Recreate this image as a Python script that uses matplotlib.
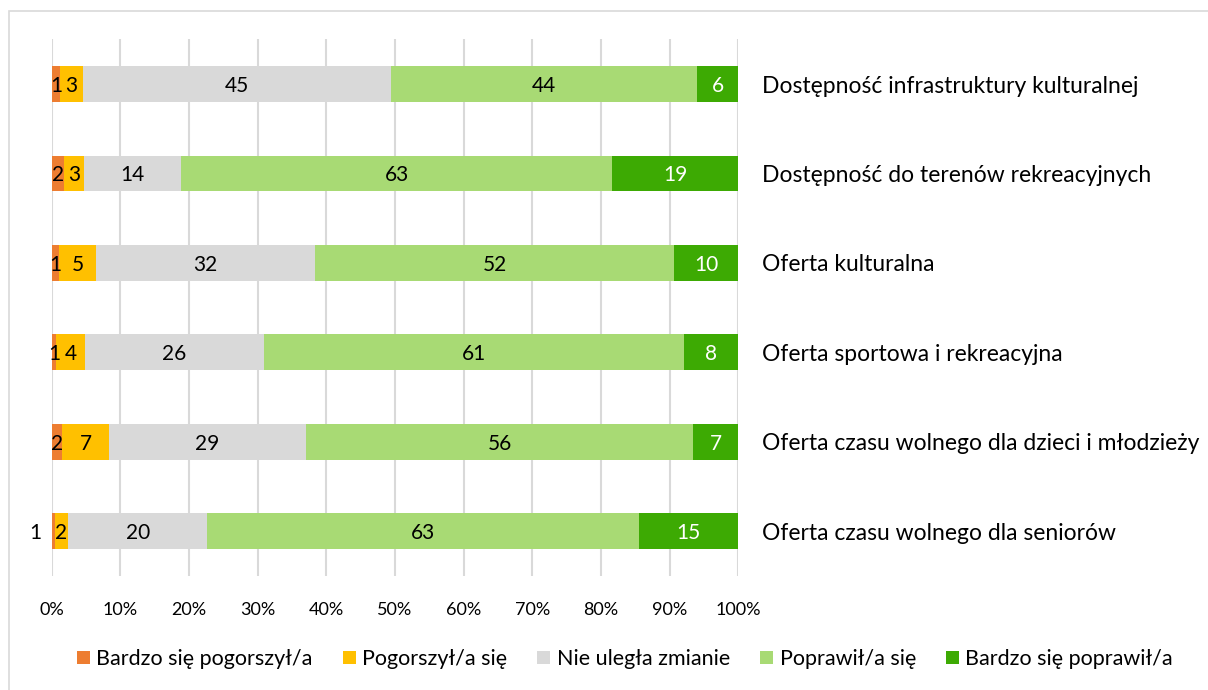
import matplotlib.pyplot as plt
from matplotlib.patches import Rectangle

plt.rcParams['font.family'] = ['Lato', 'DejaVu Sans']

categories = ["Dostępność infrastruktury kulturalnej",
              "Dostępność do terenów rekreacyjnych",
              "Oferta kulturalna",
              "Oferta sportowa i rekreacyjna",
              "Oferta czasu wolnego dla dzieci i młodzieży",
              "Oferta czasu wolnego dla seniorów"]
series_names = ["Bardzo się pogorszył/a", "Pogorszył/a się", "Nie uległa zmianie",
                "Poprawił/a się", "Bardzo się poprawił/a"]

# shares in % and the printed labels
bardzo_gorzej = [1.25, 1.84, 1.06, 0.63, 1.55, 0.43]
gorzej = [3.3, 2.82, 5.39, 4.17, 6.79, 1.94]
bez_zmian = [44.9, 14.17, 31.9, 26.16, 28.7, 20.3]
lepiej = [44.5, 62.8, 52.3, 61.1, 56.4, 62.8]
bardzo_lepiej = [6.1, 18.4, 9.4, 7.9, 6.6, 14.5]

labels_bardzo_gorzej = [1, 2, 1, 1, 2, 1]
labels_gorzej = [3, 3, 5, 4, 7, 2]
labels_bez_zmian = [45, 14, 32, 26, 29, 20]
labels_lepiej = [44, 63, 52, 61, 56, 63]
labels_bardzo_lepiej = [6, 19, 10, 8, 7, 15]

colors = ['#ED7D31', '#FFC000', '#D9D9D9', '#A8DA74', '#3DAA03']
text_colors = ['black', 'black', 'black', 'black', 'white']

values = [bardzo_gorzej, gorzej, bez_zmian, lepiej, bardzo_lepiej]
labels = [labels_bardzo_gorzej, labels_gorzej, labels_bez_zmian, labels_lepiej, labels_bardzo_lepiej]

fig = plt.figure(figsize=(12.08, 6.9), dpi=100)
ax = fig.add_axes([51.7 / 1208, 1 - 576 / 690, 686.7 / 1208, 536.7 / 690])

# outer chart frame
fig.patches.append(Rectangle((9 / 1208, -0.1), 1.2, 1 - 10.5 / 690 + 0.1,
                             transform=fig.transFigure, fill=False,
                             edgecolor='#D9D9D9', linewidth=1.2))

ypos = list(range(len(categories)))
left = [0] * len(categories)
for k in range(5):
    ax.barh(ypos, values[k], left=left, height=0.4, color=colors[k],
            label=series_names[k], zorder=2)
    for i in range(len(categories)):
        x = left[i] + values[k][i] / 2
        if k == 0 and i == 5:
            x = -2.4
        ax.text(x, ypos[i] + 0.02, str(labels[k][i]), ha='center', va='center',
                fontsize=15, color=text_colors[k], clip_on=False, zorder=3)
    left = [a + b for a, b in zip(left, values[k])]

ax.set_xlim(0, 100)
ax.set_ylim(len(categories) - 0.5, -0.5)
ax.set_xticks(range(0, 101, 10))
ax.set_xticklabels([f"{t}%" for t in range(0, 101, 10)], fontsize=13)
ax.tick_params(axis='x', length=0, pad=19)
ax.xaxis.grid(True, color='#D9D9D9', linewidth=1.5, zorder=0)
ax.set_axisbelow(True)

ax.yaxis.tick_right()
ax.set_yticks(ypos)
ax.set_yticklabels(categories, fontsize=16.5)
ax.tick_params(axis='y', length=0, pad=17)

for s in ax.spines.values():
    s.set_visible(False)

fig.legend(loc='center', bbox_to_anchor=(625 / 1208, 0.045), ncol=5, frameon=False,
           fontsize=15.5, handlelength=0.6, handleheight=0.6, handletextpad=0.3,
           columnspacing=1.4)

plt.savefig("out.png", dpi=100)
